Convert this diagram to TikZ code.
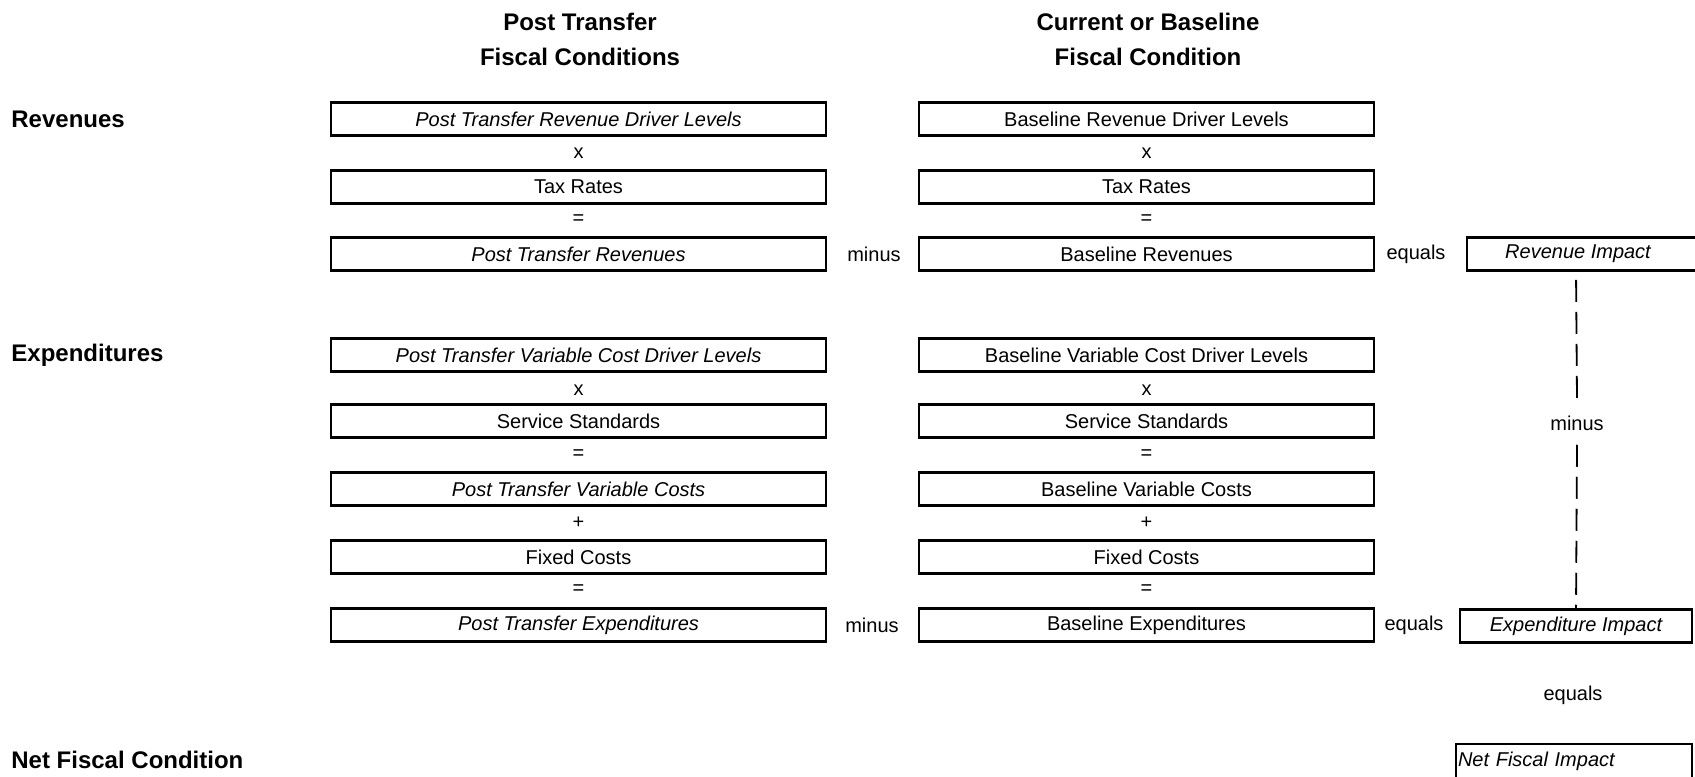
\documentclass[tikz,border=0pt]{standalone}
\usepackage{fontspec}
\setmainfont{Liberation Sans}
\begin{document}
\begin{tikzpicture}[x=0.5pt,y=-0.5pt,
  box/.style={draw, line width=1.3pt, minimum height=16.5pt, inner sep=0pt, font=\fontsize{10}{12}\selectfont},
  lbox/.style={box, minimum width=247.5pt},
  mbox/.style={box, minimum width=227.5pt},
  op/.style={font=\fontsize{10}{12}\selectfont, inner sep=0pt},
  head/.style={font=\bfseries\fontsize{12}{17.5}\selectfont, align=center, inner sep=0pt},
  side/.style={font=\bfseries\fontsize{12}{14}\selectfont, anchor=west, inner sep=0pt},
  dl/.style={line width=0.9pt, dash pattern=on 11pt off 5pt}]
\useasboundingbox (0,0) rectangle (1695,776);

% headings
\node[head] (h1) at (580,39) {Post Transfer\\Fiscal Conditions};
\node[head] (h2) at (1148,39) {Current or Baseline\\Fiscal Condition};

% side labels
\node[side] (srev) at (11,119) {Revenues};
\node[side] (sexp) at (11,355) {Expenditures};
\node[side] (snet) at (11,760) {Net Fiscal Condition};

% left column: revenues
\node[lbox] (pr1) at (578.5,119) {\itshape Post Transfer Revenue Driver Levels};
\node[op] (pox1) at (578.5,153) {x};
\node[lbox] (pr2) at (578.5,187) {Tax Rates};
\node[op] (poe1) at (578.5,220) {=};
\node[lbox] (pr3) at (578.5,254) {\itshape Post Transfer Revenues};

% middle column: revenues
\node[mbox] (br1) at (1146.5,119) {Baseline Revenue Driver Levels};
\node[op] (box1) at (1146.5,153) {x};
\node[mbox] (br2) at (1146.5,187) {Tax Rates};
\node[op] (boe1) at (1146.5,220) {=};
\node[mbox] (br3) at (1146.5,254) {Baseline Revenues};

\node[op] (m1) at (874,254) {minus};
\node[op] (e1) at (1416,254) {equals};
\node[box, minimum width=121pt] (ri) at (1588,254) {\hspace*{-10pt}\itshape Revenue Impact};

% left column: expenditures
\node[lbox] (pe1) at (578.5,355) {\itshape Post Transfer Variable Cost Driver Levels};
\node[op] (pox2) at (578.5,390) {x};
\node[lbox] (pe2) at (578.5,421) {Service Standards};
\node[op] (poe2) at (578.5,455) {=};
\node[lbox] (pe3) at (578.5,489) {\itshape Post Transfer Variable Costs};
\node[op] (pop) at (578.5,523) {+};
\node[lbox] (pe4) at (578.5,557) {Fixed Costs};
\node[op] (poe3) at (578.5,590) {=};
\node[lbox] (pe5) at (578.5,625) {\itshape Post Transfer Expenditures};

% middle column: expenditures
\node[mbox] (be1) at (1146.5,355) {Baseline Variable Cost Driver Levels};
\node[op] (box2) at (1146.5,390) {x};
\node[mbox] (be2) at (1146.5,421) {Service Standards};
\node[op] (boe2) at (1146.5,455) {=};
\node[mbox] (be3) at (1146.5,489) {Baseline Variable Costs};
\node[op] (bop) at (1146.5,523) {+};
\node[mbox] (be4) at (1146.5,557) {Fixed Costs};
\node[op] (boe3) at (1146.5,590) {=};
\node[mbox] (be5) at (1146.5,625) {Baseline Expenditures};

\node[op] (m2) at (872,625) {minus};
\node[op] (e2) at (1414,625) {equals};
\node[box, minimum width=116pt] (ei) at (1576,626) {\itshape Expenditure Impact};

% vertical dashed connector
\node[op, inner ysep=7pt] (mi) at (1577,423) {minus};
\draw[dl, shorten <=4pt] (ei.north |- ri.south) -- (mi.north);
\draw[dl] (mi.south) -- (ei.north);

% net
\node[op] (e3) at (1573,695) {equals};
\node[draw, line width=1.3pt, minimum height=17pt, text width=116pt, inner xsep=1pt, inner ysep=0pt, align=left, font=\fontsize{10}{12}\selectfont] (nfi) at (1574,761) {\itshape Net Fiscal Impact};
\end{tikzpicture}
\end{document}
